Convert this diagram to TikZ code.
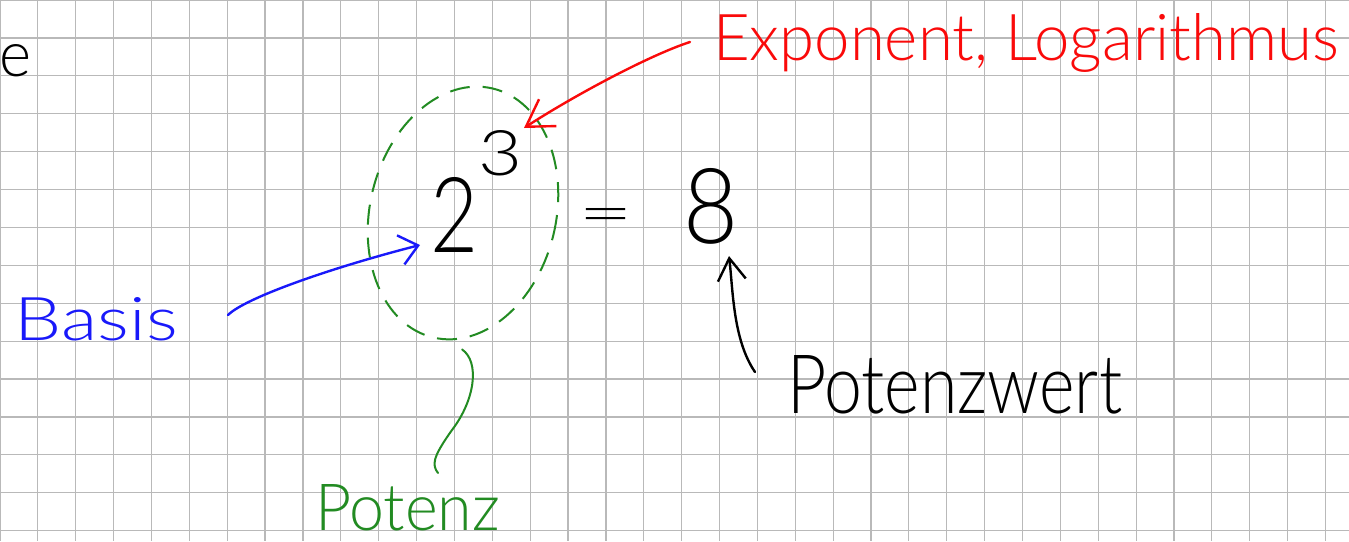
\documentclass[tikz,border=0pt]{standalone}
\usepackage{fontspec}
\usetikzlibrary{arrows.meta,shapes.geometric}
\IfFontExistsTF{Lato Light}{\newfontfamily\handfont{Lato Light}}{%
 \IfFontExistsTF{Fira Sans Light}{\newfontfamily\handfont{Fira Sans Light}}{%
  \IfFontExistsTF{Lato Thin}{\newfontfamily\handfont{Lato Thin}}{%
   \IfFontExistsTF{DejaVu Sans ExtraLight}{\newfontfamily\handfont{DejaVu Sans ExtraLight}}{%
     \newcommand\handfont{\sffamily}}}}}
\definecolor{gridgray}{RGB}{185,185,185}
\definecolor{penred}{RGB}{250,10,10}
\definecolor{penblue}{RGB}{25,25,250}
\definecolor{pengreen}{RGB}{34,139,34}
\begin{document}
\begin{tikzpicture}[x=1pt,y=-1pt,
  hand/.style={inner sep=0pt, outer sep=0pt, anchor=base west, font=\handfont},
  pen/.style={line width=2.4pt, line cap=round, line join=round},
  gridline/.style={draw=gridgray, line width=1.2pt}]
\useasboundingbox (0,0) rectangle (1349,541);
\clip (0,0) rectangle (1349,541);
\fill[white] (0,0) rectangle (1349,541);
% grid paper
\foreach \i in {0,...,35} \draw[gridline] ({\i*37.87},0) -- ({\i*37.87},541);
\foreach \j in {0,...,14} \draw[gridline] (0,{\j*37.9}) -- (1349,{\j*37.9});

% texts
\node[hand, text=black] (eletter) at (0,76) {\resizebox{32pt}{32pt}{e}};
\node[hand, text=penred] (expo) at (713,60) {\resizebox{626pt}{47pt}{Exponent, Logarithmus}};
\node[hand, text=penblue] (basis) at (15,340) {\resizebox{163pt}{43pt}{Basis}};
\node[hand, text=pengreen] (potenzlabel) at (315,530) {\resizebox{185pt}{46pt}{Potenz}};
\node[hand, text=black] (wert) at (787,413) {\resizebox{335pt}{58pt}{Potenzwert}};
\node[hand, text=black] (two) at (430,252) {\resizebox{48pt}{75pt}{2}};
\node[hand, text=black] (three) at (478,175) {\resizebox{44pt}{45pt}{3}};
\node[hand, text=black] (eq) at (578,233) {\resizebox{55pt}{25pt}{=}};
\node[hand, text=black] (eight) at (683,243) {\resizebox{55pt}{75pt}{8}};

% dashed ellipse round the power
\node[draw=pengreen, line width=2pt, dash pattern=on 20pt off 13pt, ellipse,
      minimum width=186pt, minimum height=256pt, inner sep=0pt, outer sep=0pt,
      rotate=-13.5] (power) at (463,213) {};

% connectors
\draw[pen, penred, -{Straight Barb[length=26pt,width=32pt]}]
  ([shift={(-23,-18)}]expo.base west) .. controls (650,55) and (575,95) .. ([shift={(46,-47)}]three.base west);
\draw[pen, penblue, -{Straight Barb[length=18pt,width=30pt]}]
  ([shift={(213,-25)}]basis.base west) .. controls (245,298) and (330,268) .. ([shift={(-10,-7)}]two.base west);
\draw[pen, black, -{Straight Barb[length=22pt,width=28pt]}]
  ([shift={(-32,-41)}]wert.base west) .. controls (733,340) and (733,290) .. ([shift={(46,13)}]eight.base west);
\draw[pen, pengreen, line width=2pt]
  ([shift={(29,12)}]power.south) .. controls (480,362) and (475,400) .. (452,430)
  .. controls (432,458) and (432,465) .. ([shift={(123,-57)}]potenzlabel.base west);
\end{tikzpicture}
\end{document}
